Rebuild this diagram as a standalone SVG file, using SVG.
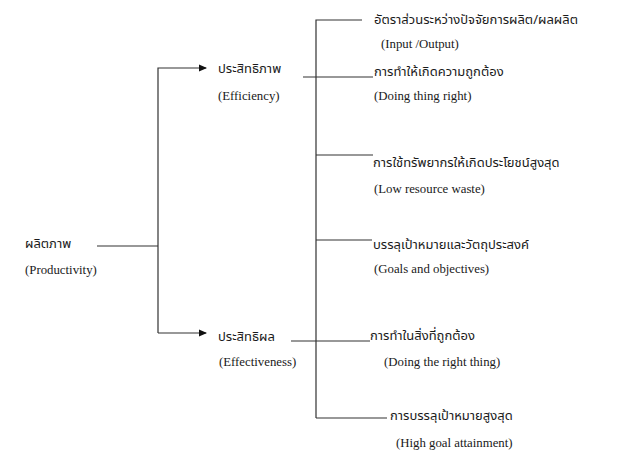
<svg xmlns="http://www.w3.org/2000/svg" width="640" height="456" viewBox="0 0 640 456">
<defs>
<style>
.th{font-family:"Noto Sans Thai","Liberation Sans","DejaVu Sans",sans-serif;font-size:13px;fill:#1a1a1a}
.en{font-family:"Liberation Serif",serif;font-size:12.8px;fill:#1a1a1a}
.ln{stroke:#333;stroke-width:1.2;fill:none}
</style>
<marker id="arr" markerWidth="8" markerHeight="8" refX="7" refY="4" orient="auto" markerUnits="userSpaceOnUse">
<path d="M0,0.5 L8,4 L0,7.5 Z" fill="#111"/>
</marker>
</defs>
<rect width="640" height="456" fill="#fff"/>
<g id="connectors">
<path class="ln" d="M97,246 H158"/>
<path class="ln" d="M158,333 V68 H206" marker-end="url(#arr)"/>
<path class="ln" d="M158,333 H206" marker-end="url(#arr)"/>
<path class="ln" d="M316,418 V20 H362"/>
<path class="ln" d="M303,77 H373"/>
<path class="ln" d="M316,155 H373"/>
<path class="ln" d="M316,240 H372"/>
<path class="ln" d="M291,341 H370"/>
<path class="ln" d="M316,418 H387"/>
</g>
<g id="productivity"><text class="th" x="25" y="248">ผลิตภาพ</text><text class="en" x="25" y="274">(Productivity)</text></g>
<g id="efficiency"><text class="th" x="218" y="73">ประสิทธิภาพ</text><text class="en" x="218" y="100">(Efficiency)</text></g>
<g id="effectiveness"><text class="th" x="218" y="341">ประสิทธิผล</text><text class="en" x="219" y="366">(Effectiveness)</text></g>
<g id="input-output"><text class="th" x="374" y="24">อัตราส่วนระหว่างปัจจัยการผลิต/ผลผลิต</text><text class="en" x="381" y="48">(Input /Output)</text></g>
<g id="doing-thing-right"><text class="th" x="374" y="76">การทำให้เกิดความถูกต้อง</text><text class="en" x="374" y="100">(Doing thing right)</text></g>
<g id="low-waste"><text class="th" x="373" y="167">การใช้ทรัพยากรให้เกิดประโยชน์สูงสุด</text><text class="en" x="374" y="193">(Low resource waste)</text></g>
<g id="goals"><text class="th" x="373" y="249">บรรลุเป้าหมายและวัตถุประสงค์</text><text class="en" x="374" y="273">(Goals and objectives)</text></g>
<g id="right-thing"><text class="th" x="370" y="340">การทำในสิ่งที่ถูกต้อง</text><text class="en" x="384" y="366">(Doing the right thing)</text></g>
<g id="high-goal"><text class="th" x="390" y="420">การบรรลุเป้าหมายสูงสุด</text><text class="en" x="396" y="447">(High goal attainment)</text></g>
</svg>
